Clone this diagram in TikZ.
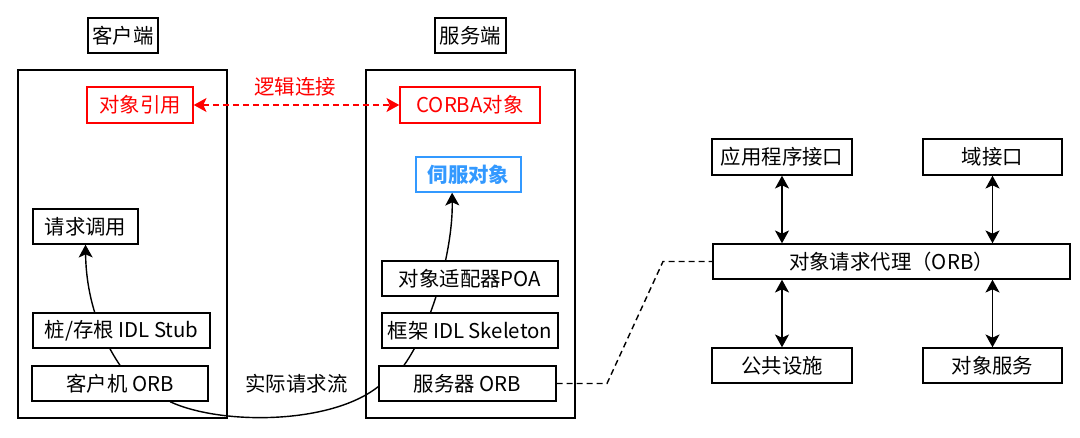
\documentclass[tikz,border=0pt]{standalone}
\usepackage{fontspec}
\setmainfont{Noto Sans CJK SC}
\usepackage{xcolor}
\usetikzlibrary{arrows.meta, positioning, calc, backgrounds}
\definecolor{servblue}{RGB}{51,153,255}
\definecolor{linkred}{RGB}{255,0,0}

\begin{document}
\begin{tikzpicture}[x=0.025cm, y=-0.025cm, line width=1pt,
		font=\fontsize{14.5}{17}\selectfont,
		box/.style={draw, fill=white, inner sep=0pt, minimum height=0.875cm},
		redbox/.style={box, draw=linkred, text=linkred, minimum height=0.9cm},
		tip/.style={-{Stealth[length=0.32cm, width=0.35cm, inset=0.08cm]}},
		bitip/.style={{Stealth[length=0.32cm, width=0.35cm, inset=0.08cm]}-{Stealth[length=0.32cm, width=0.35cm, inset=0.08cm]}},
		dashline/.style={dash pattern=on 0.15cm off 0.1cm}]
	\useasboundingbox (0,0) rectangle (1080,438);

	\node[box, minimum width=1.75cm] (client) at (123,35.5) {客户端};
	\node[box, minimum width=1.775cm] (server) at (470.5,35.5) {服务端};

	\node[draw, minimum width=5.225cm, minimum height=8.7cm] (clientbox) at (122.5,244) {};
	\node[draw, minimum width=5.225cm, minimum height=8.7cm] (serverbox) at (470.5,244) {};

	\node[redbox, minimum width=2.65cm] (objref) at (140,105) {对象引用};
	\node[redbox, minimum width=3.5cm] (corba) at (470,105) {CORBA对象};
	\node[text=linkred] (logic) at (295,87) {逻辑连接};

	\node[box, draw=servblue, text=servblue, minimum width=2.625cm, font=\fontsize{14.5}{17}\selectfont\bfseries] (servant) at (468.5,174.5) {伺服对象};

	\node[box, minimum width=2.625cm] (invoke) at (85.5,226.5) {请求调用};
	\node[box, minimum width=4.425cm] (stub) at (121.5,330.5) {桩/存根 IDL Stub};
	\node[box, minimum width=4.4cm] (corb) at (120,383.5) {客户机 ORB};

	\node[box, minimum width=4.4cm] (poa) at (470,278.5) {对象适配器POA};
	\node[box, minimum width=4.4cm] (skel) at (470,330.5) {框架 IDL Skeleton};
	\node[box, minimum width=4.425cm] (sorb) at (467.5,383.5) {服务器 ORB};

	\node (flow) at (296.5,383.5) {实际请求流};

	\node[box, minimum width=3.5cm, minimum height=0.9cm] (api) at (782,157) {应用程序接口};
	\node[box, minimum width=3.475cm, minimum height=0.9cm] (domain) at (992.5,157) {域接口};
	\node[box, minimum width=8.925cm] (orb) at (891.5,261.5) {对象请求代理（ORB）};
	\node[box, minimum width=3.5cm] (facility) at (782,365.5) {公共设施};
	\node[box, minimum width=3.475cm] (service) at (992.5,365.5) {对象服务};

	\draw[bitip, linkred, dashline] (objref) -- (corba);

	\begin{scope}[on background layer]
		\draw[tip, line width=1pt] (corb.north) .. controls (96,330) and (86,290) .. (invoke.south);
		\draw[tip, line width=1pt] (sorb.164) .. controls (432,326) and (453,250) .. (servant.228.5);
		\draw[line width=1pt] (corb.340.7) .. controls (220,425) and (330,425) .. (sorb.182.9);
	\end{scope}

	\coordinate (bendlow) at (607,383.5);
	\coordinate (bendhigh) at (663,261.5);
	\draw[dashline] (sorb.east) -- (bendlow) -- (bendhigh) -- (orb.west);

	\draw[bitip] (api) -- (api |- orb.north);
	\draw[bitip] (domain) -- (domain |- orb.north);
	\draw[bitip] (facility) -- (facility |- orb.south);
	\draw[bitip] (service) -- (service |- orb.south);
\end{tikzpicture}
\end{document}
